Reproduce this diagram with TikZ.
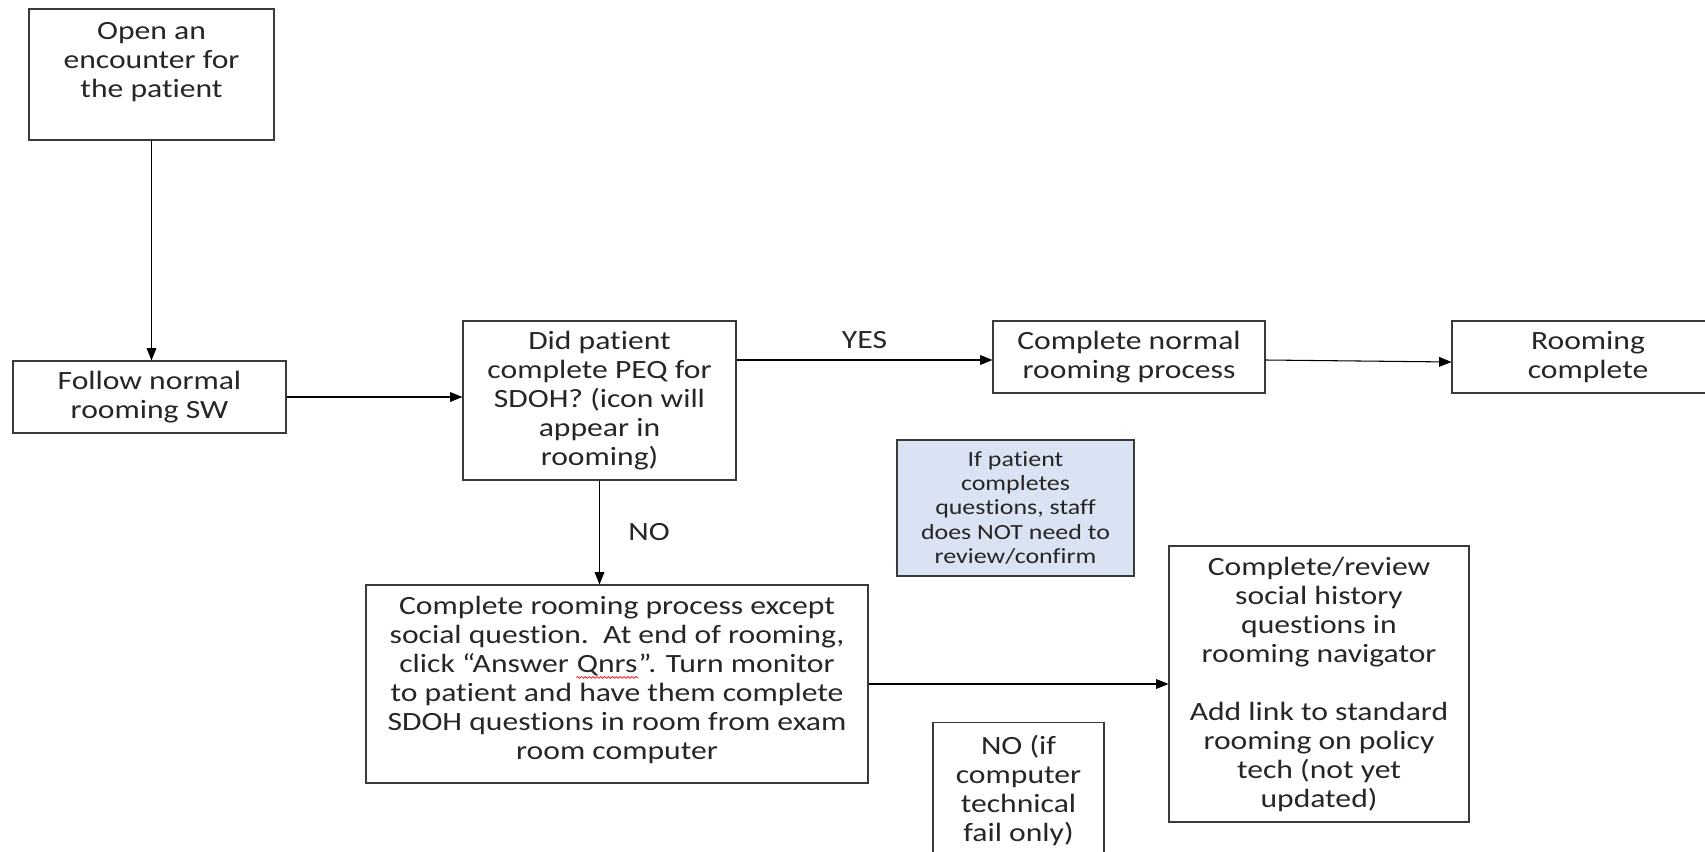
\documentclass[tikz,border=0pt]{standalone}
\usepackage{fontspec}
\setmainfont{Carlito}[FakeStretch=1.2, Ligatures=NoCommon]
\usepackage{xcolor}
\usetikzlibrary{arrows.meta,decorations.pathmorphing}
\definecolor{notefill}{HTML}{DAE3F3}
\definecolor{boxline}{HTML}{3A3A3A}
\newcommand\redwave[1]{\tikz[baseline=(w.base)]{\node[inner sep=0pt, minimum width=0pt, minimum height=0pt, draw=none, fill=none] (w) {#1};
    \draw[red, line width=0.4pt, decorate, decoration={snake, amplitude=0.5pt, segment length=2.2pt}] ([yshift=-2.8pt]w.base west) -- ([yshift=-2.8pt]w.base east);}}

\begin{document}
\begin{tikzpicture}[
    box/.style={rectangle, draw=boxline, line width=0.6pt, inner sep=0pt, align=center, text=black!85, font=\fontsize{15}{16.5}\selectfont},
    note/.style={box, fill=notefill, font=\fontsize{12.3}{13.8}\selectfont},
    arrow/.style={-{Triangle[length=7pt,width=5.5pt]}, line width=0.6pt},
    lbl/.style={font=\fontsize{15}{16.5}\selectfont, text=black!85}
]
    \useasboundingbox (0,0) rectangle (34.1,-17.04);

    % Nodes
    \node[box, minimum width=4.9cm, minimum height=2.62cm] (open) at (3.03,-1.49) {Open an\\encounter for\\the patient\\ \mbox{}};
    \node[box, minimum width=5.46cm, minimum height=1.44cm] (follow) at (2.99,-7.94) {Follow normal\\rooming SW};
    \node[box, minimum width=5.46cm, minimum height=3.18cm] (peq) at (11.99,-8.01) {Did patient\\complete PEQ for\\SDOH? (icon will\\appear in\\rooming)};
    \node[box, minimum width=5.44cm, minimum height=1.44cm] (normal) at (22.58,-7.14) {Complete normal\\rooming process};
    \node[box, minimum width=5.44cm, minimum height=1.44cm] (done) at (31.76,-7.14) {Rooming\\complete};
    \node[note, minimum width=4.74cm, minimum height=2.72cm] (staffnote) at (20.31,-10.16) {If patient\\completes\\questions, staff\\does NOT need to\\review/confirm};
    \node[box, minimum width=10.04cm, minimum height=3.96cm] (except) at (12.34,-13.68) {Complete rooming process except\\social question.\ \ At end of rooming,\\click “Answer \redwave{Qnrs}”. Turn monitor\\to patient and have them complete\\SDOH questions in room from exam\\room computer\\[-9.5pt]\mbox{}};
    \node[box, minimum width=6.0cm, minimum height=5.52cm] (review) at (26.38,-13.68) {Complete/review\\social history\\questions in\\rooming navigator\\[16.5pt]Add link to standard\\rooming on policy\\tech (not yet\\updated)};
    \node[box, minimum width=3.42cm, minimum height=2.7cm] (techfail) at (20.37,-15.8) {NO (if\\computer\\technical\\fail only)};

    % Arrows
    \draw[arrow] (open.south) -- (open.south |- follow.north);
    \draw[arrow] (follow.east) -- (follow.east -| peq.west);
    \draw[arrow] ([yshift=-0.06cm]peq.east |- normal.west) -- ([yshift=-0.06cm]normal.west)
          node[midway, above=3pt, lbl] (yes) {YES};
    \draw[arrow] ([yshift=-0.06cm]normal.east) -- ([yshift=-0.1cm]done.west);
    \draw[arrow] (peq.south) -- (peq.south |- except.north)
          node[midway, right=0.45cm, lbl] (no) {NO};
    \draw[arrow] (except.east) -- (except.east -| review.west);
\end{tikzpicture}
\end{document}
